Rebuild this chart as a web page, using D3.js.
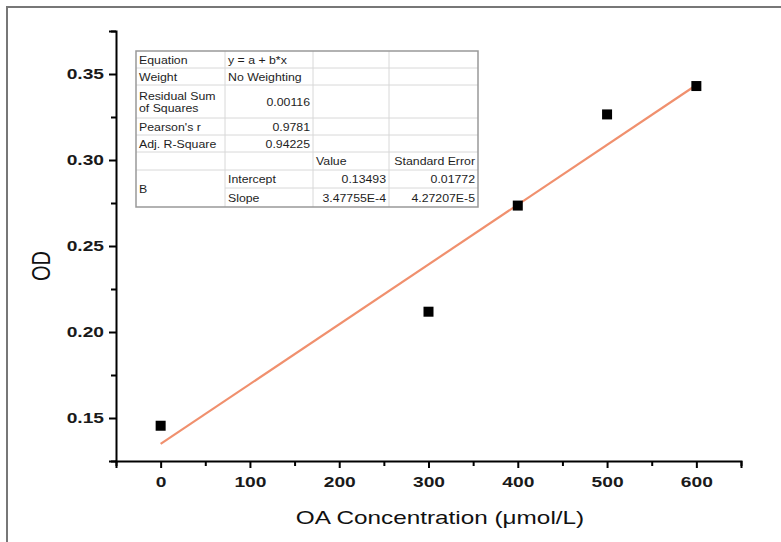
<!DOCTYPE html>
<html>
<head>
<meta charset="utf-8">
<title>OD vs OA concentration</title>
<script src="https://d3js.org/d3.v7.min.js"></script>
<style>
  html, body { margin: 0; padding: 0; background: #fff; }
  svg { display: block; font-family: 'Liberation Sans', Arial, sans-serif; }
</style>
</head>
<body>
<div id="chart"></div>
<script>
// data
var concentrations = [0, 300, 400, 500, 600];
var odValues = [0.1455, 0.2118, 0.2735, 0.3265, 0.3430];
var fitIntercept = 0.13493;
var fitSlope = 3.47755e-4;
var xTicks = [0, 100, 200, 300, 400, 500, 600];
var yTicks = [0.15, 0.20, 0.25, 0.30, 0.35];

// fit summary table (Origin style)
var tableLabels = ["Equation", "Weight", "Residual Sum|of Squares", "Pearson's r", "Adj. R-Square", "", "B", ""];
var tableValues = ["y = a + b*x", "No Weighting", "0.00116", "0.9781", "0.94225", "", "Intercept", "Slope"];
var tableCol3 = ["", "", "", "", "", "Value", "0.13493", "3.47755E-4"];
var tableCol4 = ["", "", "", "", "", "Standard Error", "0.01772", "4.27207E-5"];

var W = 781, H = 542;
var stretch = 1.28;   // the source picture is squeezed wider than tall
var svg = d3.select("#chart").append("svg")
  .attr("width", W).attr("height", H);

// outer picture frame (only top and left edges visible)
svg.append("path")
  .attr("d", "M7," + H + "V7H" + W)
  .attr("fill", "none")
  .attr("stroke", "#777")
  .attr("stroke-width", 2);

var x = d3.scaleLinear().domain([-50, 650]).range([116, 741]);
var y = d3.scaleLinear().domain([0.125, 0.375]).range([461, 31]);

// minor ticks
var xMinor = d3.range(-50, 651, 50).filter(function(v){ return v % 100 !== 0; });
var yMinor = d3.range(0, 11).map(function(i){ return 0.125 + i * 0.025; })
  .filter(function(v){ return Math.abs(v * 20 - Math.round(v * 20)) > 1e-6; });

var gx = svg.append("g").attr("transform", "translate(0," + y(0.125) + ")");
gx.call(d3.axisBottom(x).tickValues(xTicks).tickSize(7).tickPadding(8).tickFormat(d3.format("d")));
gx.append("g").call(d3.axisBottom(x).tickValues(xMinor).tickSize(5).tickFormat(""))
  .select(".domain").remove();

var gy = svg.append("g").attr("transform", "translate(" + x(-50) + ",0)");
gy.call(d3.axisLeft(y).tickValues(yTicks).tickSize(7).tickPadding(5).tickFormat(d3.format(".2f")));
gy.append("g").call(d3.axisLeft(y).tickValues(yMinor).tickSize(5).tickFormat(""))
  .select(".domain").remove();

svg.selectAll(".domain").attr("stroke", "#000").attr("stroke-width", 2);
svg.selectAll(".tick line").attr("stroke", "#000").attr("stroke-width", 2);
svg.selectAll(".tick text").attr("fill", "#1a1a1a").style("font-size", "15px")
  .style("font-weight", "bold")
  .style("font-family", "'Liberation Sans', Arial, sans-serif");
gy.selectAll(".tick text")
  .attr("x", -12 / stretch)
  .attr("transform", "scale(" + stretch + ",1)");
gx.selectAll(".tick text")
  .attr("transform", "scale(" + stretch + ",1)");

// axis titles
svg.append("text")
  .attr("transform", "translate(440,524) scale(" + stretch + ",1)")
  .attr("text-anchor", "middle")
  .style("font-size", "19px").attr("fill", "#111")
  .text("OA Concentration (\u03bcmol/L)");

svg.append("text")
  .attr("transform", "translate(50,266) rotate(-90) scale(1," + stretch + ")")
  .attr("text-anchor", "middle")
  .style("font-size", "20px").attr("fill", "#111")
  .text("OD");

// linear fit
svg.append("line")
  .attr("x1", x(0)).attr("y1", y(fitIntercept))
  .attr("x2", x(600)).attr("y2", y(fitIntercept + fitSlope * 600))
  .attr("stroke", "#f0906e")
  .attr("stroke-width", 2.2);

// data points
svg.selectAll("rect.pt")
  .data(concentrations)
  .enter().append("rect")
  .attr("class", "pt")
  .attr("x", function(d){ return x(d) - 5; })
  .attr("y", function(d, i){ return y(odValues[i]) - 5; })
  .attr("width", 10).attr("height", 10)
  .attr("fill", "#000");

// table
var rowY = [51, 68, 85, 118, 135, 152, 170, 188, 207];
var colX = [136, 225, 313, 389, 478];
var tStretch = 1.12;
var tbl = svg.append("g").style("font-size", "11px").attr("fill", "#1e1e1e");

// horizontal grid lines
for (var r = 1; r < rowY.length - 1; r++) {
  var startX = (r === 7) ? colX[1] : colX[0];
  tbl.append("line")
    .attr("x1", startX).attr("x2", colX[4])
    .attr("y1", rowY[r]).attr("y2", rowY[r])
    .attr("stroke", "#d8d8d8").attr("stroke-width", 1);
}
for (var c = 1; c < colX.length - 1; c++) {
  tbl.append("line")
    .attr("x1", colX[c]).attr("x2", colX[c])
    .attr("y1", rowY[0]).attr("y2", rowY[8])
    .attr("stroke", "#d8d8d8").attr("stroke-width", 1);
}
tbl.append("rect")
  .attr("x", colX[0]).attr("y", rowY[0])
  .attr("width", colX[4] - colX[0]).attr("height", rowY[8] - rowY[0])
  .attr("fill", "none").attr("stroke", "#999").attr("stroke-width", 1.5);

function cellText(txt, col, row, align) {
  var lines = txt.split("|");
  var top = rowY[row], bottom = rowY[row + 1];
  if (txt === "B") { bottom = rowY[row + 2]; }
  var mid = (top + bottom) / 2;
  var tx = align === "end" ? colX[col + 1] - 3 : colX[col] + 3;
  lines.forEach(function(l, i){
    var ty = mid + 4 + (i - (lines.length - 1) / 2) * 12;
    tbl.append("text")
      .attr("transform", "translate(" + tx + "," + ty + ") scale(" + tStretch + ",1)")
      .attr("text-anchor", align)
      .text(l);
  });
}

tableLabels.forEach(function(t, i){ if (t) cellText(t, 0, i, "start"); });
tableValues.forEach(function(t, i){
  if (!t) return;
  var isNum = !isNaN(parseFloat(t));
  cellText(t, 1, i, isNum ? "end" : "start");
});
tableCol3.forEach(function(t, i){ if (t) cellText(t, 2, i, t === "Value" ? "start" : "end"); });
tableCol4.forEach(function(t, i){ if (t) cellText(t, 3, i, "end"); });
</script>
</body>
</html>
